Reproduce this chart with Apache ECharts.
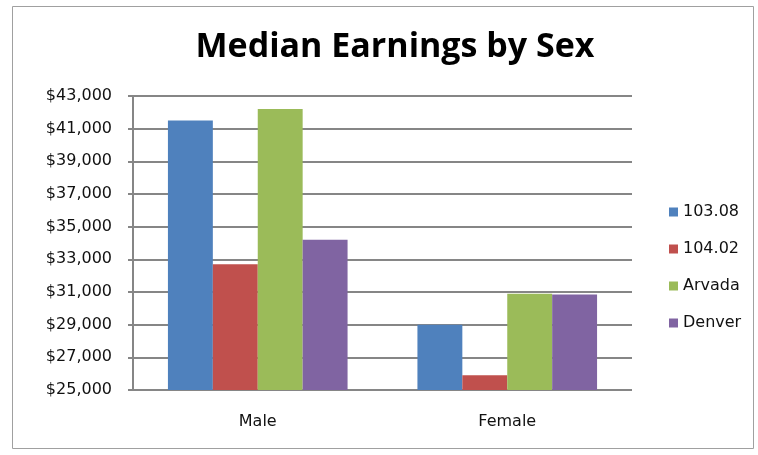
<!DOCTYPE html>
<html>
<head>
<meta charset="utf-8">
<script src="https://cdn.jsdelivr.net/npm/echarts@6/dist/echarts.min.js"></script>
<style>
  html, body { margin: 0; padding: 0; background: #fff; }
  #chart { width: 758px; height: 455px; }
</style>
</head>
<body>
<div id="chart"></div>
<script>
// Median earnings by sex for two census tracts, Arvada and Denver
const categories = ['Male', 'Female'];
const seriesNames = ['103.08', '104.02', 'Arvada', 'Denver'];
const tract10308 = [41500, 29000];
const tract10402 = [32700, 25900];
const arvada = [42200, 30900];
const denver = [34200, 30850];
const yTicks = [25000, 27000, 29000, 31000, 33000, 35000, 37000, 39000, 41000, 43000];

const colors = ['#4f81bd', '#c0504d', '#9bbb59', '#8064a2'];
const values = [tract10308, tract10402, arvada, denver];

const fmt = v => '$' + v.toLocaleString('en-US');
const labelFont = 'DejaVu Sans, sans-serif';

const chart = echarts.init(document.getElementById('chart'), null, { renderer: 'canvas' });

chart.setOption({
  animation: false,
  backgroundColor: '#fff',
  textStyle: { fontFamily: labelFont },
  graphic: [{
    type: 'rect',
    shape: { x: 12.5, y: 6.5, width: 741, height: 442 },
    style: { fill: 'none', stroke: '#a0a0a0', lineWidth: 1 },
    silent: true,
    z: -1
  }],
  title: {
    text: 'Median Earnings by Sex',
    left: 390,
    top: 25,
    textAlign: 'center',
    textStyle: { fontSize: 34, fontWeight: 'bold', color: '#000', fontFamily: 'Open Sans, sans-serif' }
  },
  legend: {
    orient: 'vertical',
    left: 664,
    top: 199,
    itemWidth: 9,
    itemHeight: 9,
    itemGap: 21,
    icon: 'rect',
    textStyle: { fontSize: 16, lineHeight: 16, color: '#111', fontFamily: labelFont },
    data: seriesNames
  },
  grid: { left: 133, right: 126, top: 96, bottom: 65, containLabel: false },
  xAxis: {
    type: 'category',
    data: categories,
    axisLine: { show: false },
    axisTick: { show: false },
    axisLabel: { fontSize: 16, color: '#111', margin: 24, fontFamily: labelFont }
  },
  yAxis: {
    type: 'value',
    min: yTicks[0],
    max: yTicks[yTicks.length - 1],
    interval: 2000,
    axisLine: { show: true, lineStyle: { color: '#868686', width: 2 } },
    axisTick: { show: true, length: 5, lineStyle: { color: '#868686', width: 2 } },
    axisLabel: { fontSize: 16, color: '#111', margin: 21, formatter: fmt, fontFamily: labelFont },
    splitLine: { show: true, lineStyle: { color: '#868686', width: 2 } }
  },
  series: seriesNames.map((name, i) => ({
    name,
    type: 'bar',
    data: values[i],
    itemStyle: { color: colors[i] },
    barGap: '0%',
    barCategoryGap: '28%'
  }))
});
</script>
</body>
</html>
